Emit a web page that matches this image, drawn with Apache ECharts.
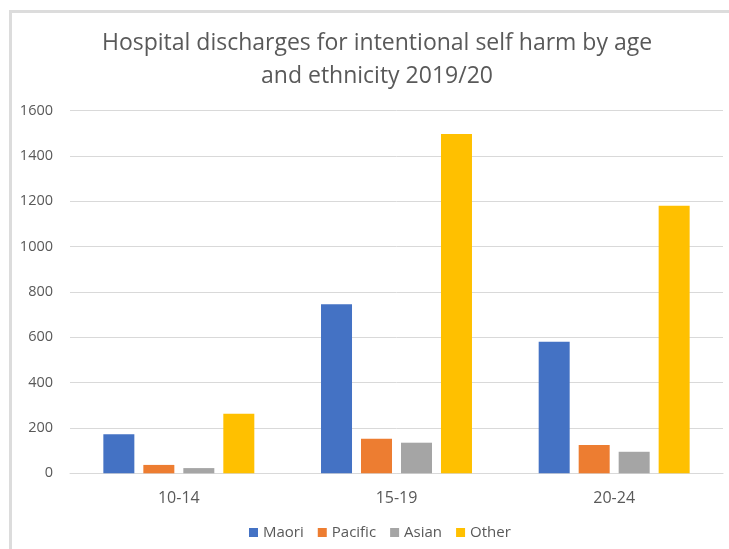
<!DOCTYPE html>
<html>
<head>
<meta charset="utf-8">
<script src="https://cdn.jsdelivr.net/npm/echarts@6/dist/echarts.min.js"></script>
<style>
  html, body { margin: 0; padding: 0; background: #ffffff; }
  #chart { width: 729px; height: 549px; }
</style>
</head>
<body>
<div id="chart"></div>
<script>
// Age groups and discharge counts per ethnic group, 2019/20
const ageGroups = ['10-14', '15-19', '20-24'];
const maori   = [172, 746, 581];
const pacific = [37, 153, 125];
const asian   = [23, 135, 95];
const other   = [263, 1497, 1181];
const yTicks  = { min: 0, max: 1600, interval: 200 };

const FONT = '"Open Sans", sans-serif';
const TEXT = '#595959';

const chart = echarts.init(document.getElementById('chart'), null, { renderer: 'canvas' });

function barSeries(name, data, color) {
  return {
    name: name,
    type: 'bar',
    data: data,
    barWidth: 31,
    barGap: '29%',
    itemStyle: { color: color },
    emphasis: { disabled: true }
  };
}

chart.setOption({
  animation: false,
  backgroundColor: '#ffffff',
  graphic: [{
    type: 'rect',
    left: 8, top: 9,
    shape: { width: 800, height: 600 },
    style: { fill: 'none', stroke: '#dcdcdc', lineWidth: 3 },
    silent: true
  }],
  title: {
    text: 'Hospital discharges for intentional self harm by age\nand ethnicity 2019/20',
    left: 377,
    top: 27,
    padding: 0,
    textAlign: 'center',
    textStyle: {
      fontFamily: FONT,
      fontSize: 23,
      fontWeight: 'normal',
      color: TEXT,
      lineHeight: 33
    }
  },
  legend: {
    left: 249,
    top: 525,
    padding: 0,
    itemWidth: 9,
    itemHeight: 9,
    itemGap: 14,
    icon: 'rect',
    textStyle: { fontFamily: FONT, fontSize: 15, color: TEXT },
    data: ['Maori', 'Pacific', 'Asian', 'Other']
  },
  grid: { left: 70, right: 6, top: 110.7, bottom: 75.7, containLabel: false },
  xAxis: {
    type: 'category',
    data: ageGroups,
    axisLine: { lineStyle: { color: '#d9d9d9', width: 1 } },
    axisTick: { show: false },
    axisLabel: { fontFamily: FONT, fontSize: 16, color: TEXT, margin: 17 }
  },
  yAxis: {
    type: 'value',
    min: yTicks.min,
    max: yTicks.max,
    interval: yTicks.interval,
    axisLine: { show: false },
    axisTick: { show: false },
    splitLine: { lineStyle: { color: '#d9d9d9', width: 1 } },
    axisLabel: {
      fontFamily: FONT, fontSize: 14.5, color: TEXT, margin: 17,
      formatter: function (v) { return String(v); }
    }
  },
  series: [
    barSeries('Maori', maori, '#4472C4'),
    barSeries('Pacific', pacific, '#ED7D31'),
    barSeries('Asian', asian, '#A5A5A5'),
    barSeries('Other', other, '#FFC000')
  ]
});
</script>
</body>
</html>
